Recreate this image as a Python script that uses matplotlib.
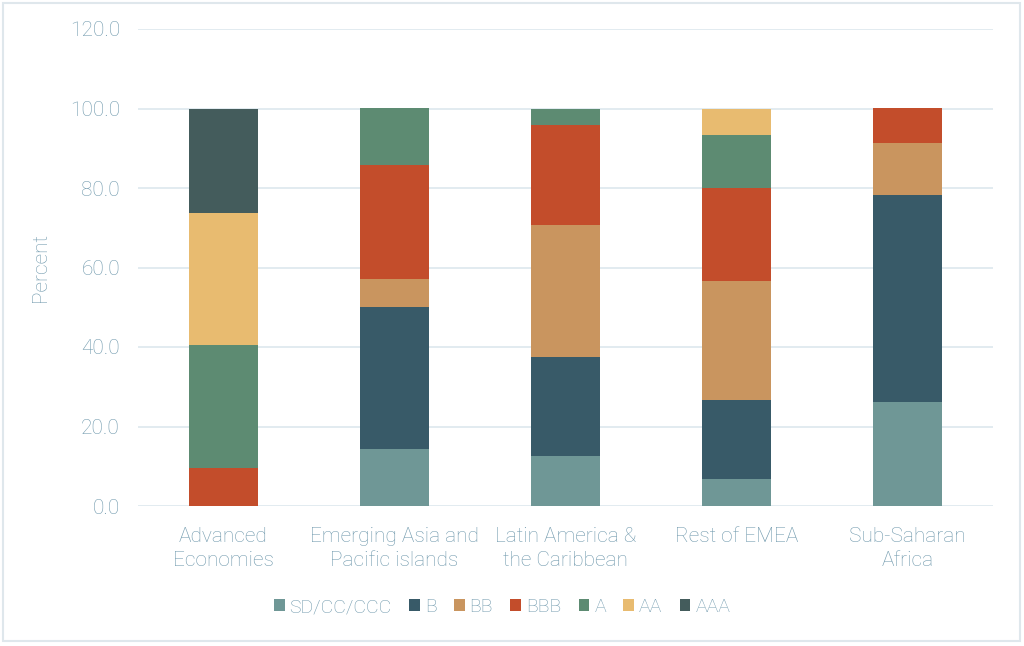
import numpy as np
import matplotlib.pyplot as plt
from matplotlib.patches import Rectangle

# Share of sovereigns by rating bucket, per region (percent)
regions = ["Advanced\nEconomies", "Emerging Asia and\nPacific islands",
           "Latin America &\nthe Caribbean", "Rest of EMEA", "Sub-Saharan\nAfrica"]
ratings = ["SD/CC/CCC", "B", "BB", "BBB", "A", "AA", "AAA"]

sd_cc_ccc = [0.0, 14.3, 12.5, 6.7, 26.1]
b_rating = [0.0, 35.7, 25.0, 20.0, 52.2]
bb_rating = [0.0, 7.1, 33.3, 30.0, 13.0]
bbb_rating = [9.5, 28.6, 25.0, 23.3, 8.7]
a_rating = [31.0, 14.3, 4.2, 13.3, 0.0]
aa_rating = [33.1, 0.0, 0.0, 6.7, 0.0]
aaa_rating = [26.4, 0.0, 0.0, 0.0, 0.0]

series = [sd_cc_ccc, b_rating, bb_rating, bbb_rating, a_rating, aa_rating, aaa_rating]
colors = ["#6f9796", "#385a68", "#c9955f", "#c34d2b", "#5d8b72", "#e8bb70", "#445c5c"]

text_col = "#7099ad"
grid_col = "#dde8ee"

plt.rcParams['font.family'] = ['Roboto', 'DejaVu Sans']

fig = plt.figure(figsize=(10.24, 6.46), dpi=100)
ax = fig.add_axes([138 / 1024, 1 - 506 / 646, (993 - 138) / 1024, (506 - 29) / 646])

x = np.arange(len(regions))
bottom = np.zeros(len(regions))
for name, vals, c in zip(ratings, series, colors):
    vals = np.array(vals)
    ax.bar(x, vals, 0.4, bottom=bottom, color=c, label=name, zorder=3)
    bottom += vals

ax.set_xlim(-0.5, 4.5)
ax.set_ylim(0, 120)
ax.set_yticks(np.arange(0, 121, 20))
ax.set_yticklabels([f"{v:.1f}" for v in np.arange(0, 121, 20)])
ax.set_xticks(x)
ax.set_xticklabels(regions)
ax.grid(axis='y', color=grid_col, linewidth=1.2, zorder=0)
for s in ax.spines.values():
    s.set_visible(False)
ax.tick_params(axis='both', length=0, colors=text_col, labelsize=15)
ax.tick_params(axis='y', pad=13)
ax.tick_params(axis='x', pad=15)
for lbl in ax.get_xticklabels() + ax.get_yticklabels():
    lbl.set_fontweight('light')
    lbl.set_linespacing(1.35)
ax.set_ylabel("Percent", color=text_col, fontsize=15, fontweight='light', labelpad=14)

leg = fig.legend(loc='center', bbox_to_anchor=(502 / 1024, 1 - 607 / 646), ncol=7,
                 frameon=False, fontsize=14, handlelength=0.55, handleheight=0.55,
                 handletextpad=0.25, columnspacing=0.9)
for t in leg.get_texts():
    t.set_color(text_col)
    t.set_fontweight('light')

# light border around the whole chart
fig.patches.append(Rectangle((3 / 1024, 5 / 646), 1017 / 1024, 638 / 646,
                             transform=fig.transFigure, fill=False,
                             edgecolor="#dfe7ec", linewidth=1.5))

fig.savefig("out.png", dpi=100, facecolor='white')
